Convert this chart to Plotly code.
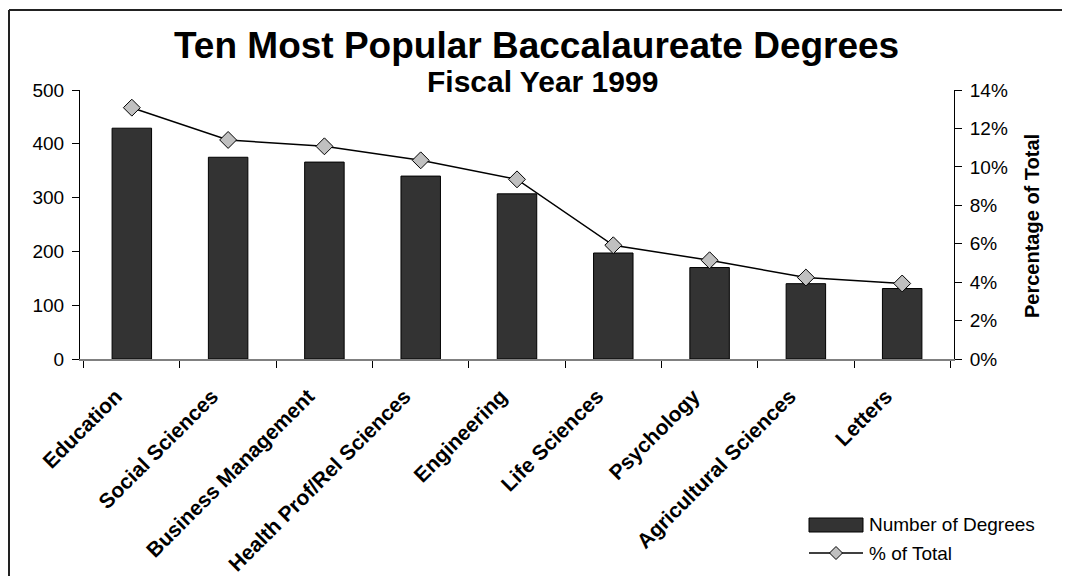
import plotly.graph_objects as go

categories = ["Education", "Social Sciences", "Business Management", "Health Prof/Rel Sciences",
              "Engineering", "Life Sciences", "Psychology", "Agricultural Sciences", "Letters"]
degrees = [429, 375, 366, 340, 307, 197, 170, 140, 131]
pct_total = [0.1308, 0.114, 0.1107, 0.1034, 0.0935, 0.0592, 0.0514, 0.0424, 0.0393]
left_ticks = [0, 100, 200, 300, 400, 500]
right_ticks = [0, 0.02, 0.04, 0.06, 0.08, 0.10, 0.12, 0.14]

OFF = 8  # page body margin
W, H = 1070 - OFF, 576 - OFF
L, T, PW, PH = 80 - OFF, 90 - OFF, 874, 269
R, B = W - L - PW, H - T - PH
FONT = "Liberation Sans, Arial, sans-serif"


def px2x(px):
    return (px - OFF - L) / PW


def px2y(py):
    return 1 - (py - OFF - T) / PH


fig = go.Figure()
fig.add_trace(go.Bar(
    x=categories, y=degrees, name="Number of Degrees",
    marker=dict(color="#333333", line=dict(color="#000000", width=1)),
    yaxis="y", showlegend=False,
))
fig.add_trace(go.Scatter(
    x=categories, y=pct_total, name="% of Total", mode="lines+markers",
    line=dict(color="#000000", width=1.5),
    marker=dict(symbol="diamond", size=13, color="#C0C0C0", line=dict(color="#000000", width=1)),
    yaxis="y2", showlegend=False,
))

fig.update_layout(
    width=W, height=H,
    margin=dict(l=L, r=R, t=T, b=B, autoexpand=False),
    paper_bgcolor="white", plot_bgcolor="white",
    font=dict(family=FONT, size=19, color="#000000"),
    bargap=0.59,
    xaxis=dict(
        type="category", showgrid=False, showline=True, linecolor="#808080", linewidth=1.5,
        ticks="outside", tickson="boundaries", ticklen=7, tickcolor="#000000",
        tickangle=-45, tickfont=dict(family=FONT, size=21, color="#000000", weight="bold"),
        ticklabelstandoff=15, ticklabelshift=-16, zeroline=False,
    ),
    yaxis=dict(
        range=[0, 500], tickvals=left_ticks, showgrid=False, zeroline=False,
        showline=True, linecolor="#000000", linewidth=1, ticks="outside", ticklen=7,
        tickcolor="#000000", ticklabelstandoff=4, tickfont=dict(size=19),
    ),
    yaxis2=dict(
        range=[0, 0.14], tickvals=right_ticks, tickformat=".0%", overlaying="y", side="right",
        showgrid=False, zeroline=False, showline=True, linecolor="#000000", linewidth=1,
        ticks="outside", ticklen=7, tickcolor="#000000", ticklabelstandoff=4,
        tickfont=dict(size=19),
    ),
)

annotations = [
    dict(text="<b>Ten Most Popular Baccalaureate Degrees</b>", x=px2x(536), y=px2y(46),
         font=dict(size=37)),
    dict(text="<b>Fiscal Year 1999</b>", x=px2x(542), y=px2y(82), font=dict(size=30)),
    dict(text="<b>Percentage of Total</b>", x=px2x(1032), y=px2y(226), textangle=-90,
         font=dict(size=20)),
    dict(text="Number of Degrees", x=px2x(867), y=px2y(524), xanchor="left", font=dict(size=19)),
    dict(text="% of Total", x=px2x(867), y=px2y(553), xanchor="left", font=dict(size=19)),
]
for a in annotations:
    a.setdefault("xanchor", "center")
    a.update(xref="paper", yref="paper", yanchor="middle", showarrow=False)
fig.update_layout(annotations=annotations)

shapes = [
    # outer frame (top and left edges visible in the window)
    dict(type="line", x0=px2x(9), x1=px2x(1080), y0=px2y(10), y1=px2y(10),
         line=dict(color="#222222", width=2)),
    dict(type="line", x0=px2x(9), x1=px2x(9), y0=px2y(10), y1=px2y(590),
         line=dict(color="#222222", width=2)),
    # legend bar swatch
    dict(type="rect", x0=px2x(809), x1=px2x(863), y0=px2y(532), y1=px2y(518),
         fillcolor="#333333", line=dict(color="#000000", width=1)),
    # legend line swatch
    dict(type="line", x0=px2x(809), x1=px2x(863), y0=px2y(553), y1=px2y(553),
         line=dict(color="#000000", width=1.5)),
    # legend diamond
    dict(type="path",
         path="M {a},{b} L {c},{d} L {a},{e} L {f},{d} Z".format(
             a=px2x(836), b=px2y(546.5), c=px2x(842.5), d=px2y(553), e=px2y(559.5), f=px2x(829.5)),
         fillcolor="#C0C0C0", line=dict(color="#000000", width=1)),
]
for s in shapes:
    s.update(xref="paper", yref="paper")
fig.update_layout(shapes=shapes)

fig.write_html("out.html")
